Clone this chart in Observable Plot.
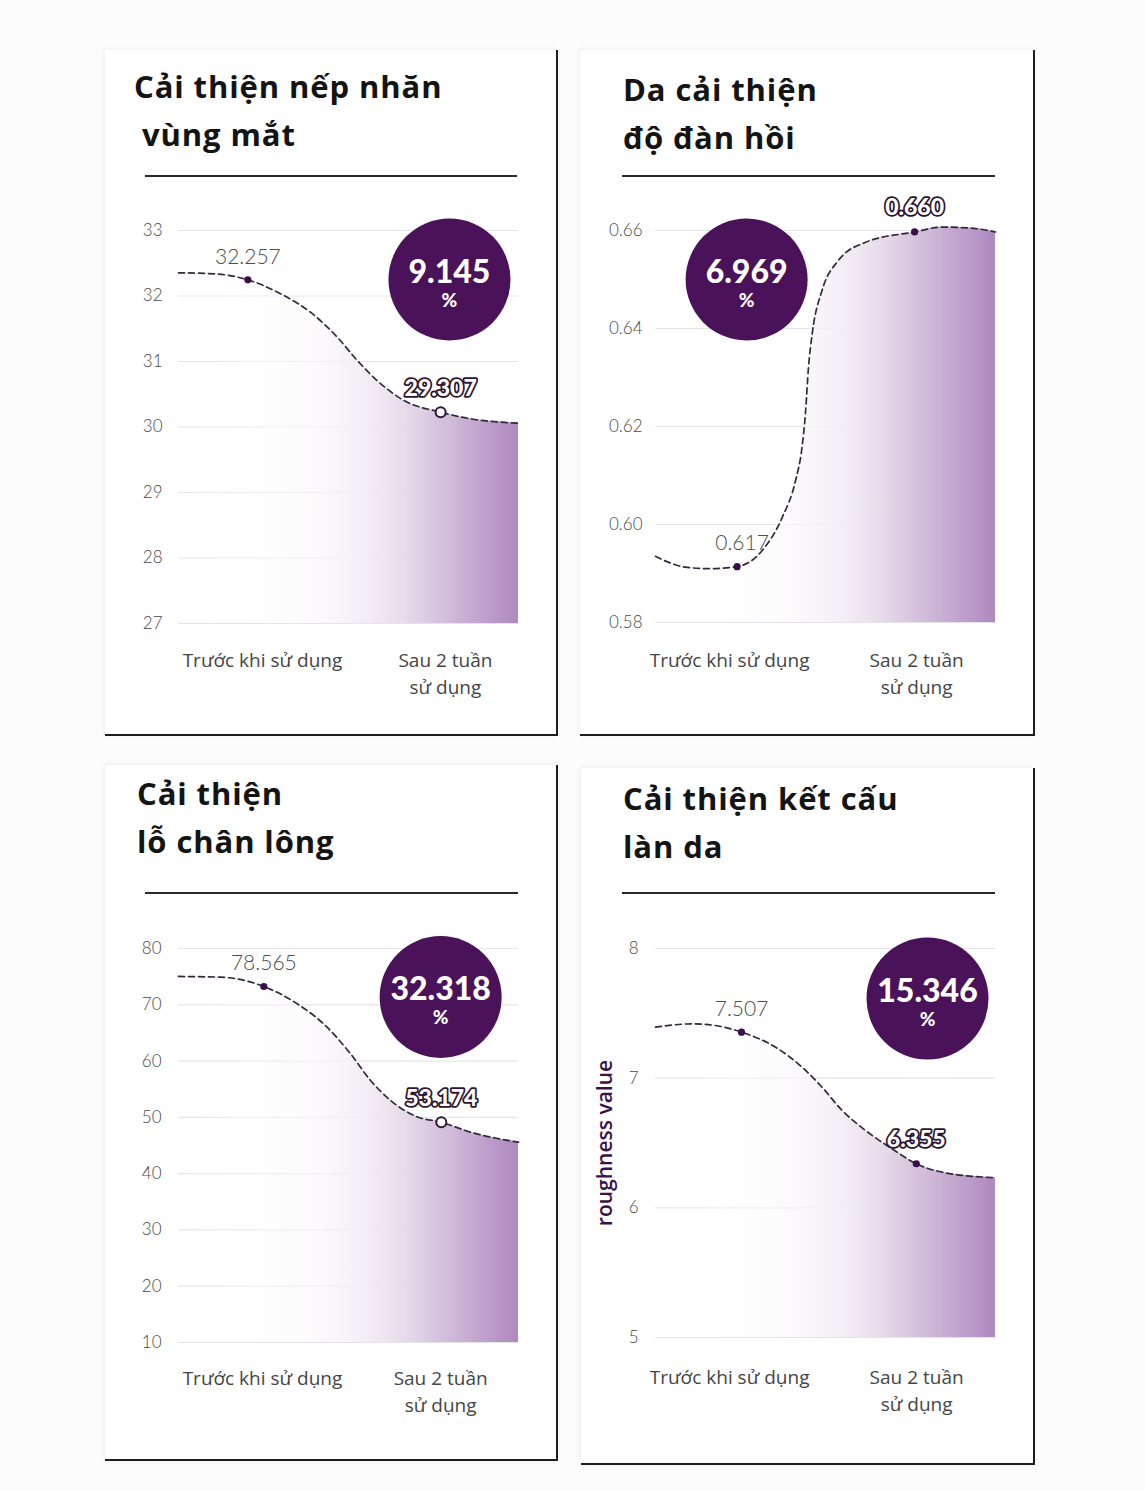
<!DOCTYPE html>
<html><head><meta charset="utf-8">
<script src="https://cdn.jsdelivr.net/npm/d3@7"></script>
<script src="https://cdn.jsdelivr.net/npm/@observablehq/plot@0.6"></script>
<style>
html,body{margin:0;padding:0;}
body{background:#fdfcfd;width:1145px;height:1491px;position:relative;overflow:hidden;font-family:Lato,sans-serif;}
.card{position:absolute;background:#fff;border-right:2px solid #1e1e1e;border-bottom:2px solid #1e1e1e;box-shadow:-1px -1px 5px rgba(0,0,0,0.06);box-sizing:border-box;}
.tline{position:absolute;font-family:'Open Sans',sans-serif;font-weight:700;font-size:31px;color:#141414;line-height:48px;white-space:pre;letter-spacing:0.9px;}
.rule{position:absolute;height:2px;background:#2a2a2a;}
.chart{position:absolute;}
</style></head><body>
<script>
// ---------- shared ----------
const categories = ["Trước khi sử dụng", "Sau 2 tuần\nsử dụng"];

// ---------- Panel 1 ----------
const p1Title = ["Cải thiện nếp nhăn", "vùng mắt"];
const p1YTicks = [27, 28, 29, 30, 31, 32, 33];
const p1CurveX = [0, 0.104, 0.204, 0.300, 0.388, 0.467, 0.526, 0.584, 0.663, 0.771, 0.859, 1];
const p1CurveY = [32.354, 32.339, 32.247, 32.034, 31.753, 31.371, 31.015, 30.710, 30.405, 30.226, 30.125, 30.058];
const p1PointX = [0.204, 0.771];
const p1PointY = [32.247, 30.226];
const p1PointLabels = ["32.257", "29.307"];
const p1Badge = "9.145";
const p1CategoryX = [0.247, 0.785];

// ---------- Panel 2 ----------
const p2Title = ["Da cải thiện", "độ đàn hồi"];
const p2YTicks = [0.58, 0.60, 0.62, 0.64, 0.66];
const p2CurveX = [0, 0.088, 0.156, 0.240, 0.314, 0.373, 0.412, 0.431, 0.441, 0.450, 0.461, 0.490, 0.538, 0.618, 0.762, 0.843, 0.941, 1];
const p2CurveY = [0.5935, 0.5913, 0.5910, 0.5914, 0.5947, 0.6015, 0.6090, 0.6158, 0.6227, 0.6321, 0.6390, 0.6478, 0.6539, 0.6576, 0.6597, 0.6607, 0.6604, 0.6597];
const p2PointX = [0.240, 0.762];
const p2PointY = [0.5914, 0.6597];
const p2PointLabels = ["0.617", "0.660"];
const p2Badge = "6.969";
const p2CategoryX = [0.218, 0.768];

// ---------- Panel 3 ----------
const p3Title = ["Cải thiện", "lỗ chân lông"];
const p3YTicks = [10, 20, 30, 40, 50, 60, 70, 80];
const p3CurveX = [0, 0.124, 0.251, 0.349, 0.437, 0.506, 0.565, 0.624, 0.702, 0.773, 0.859, 1];
const p3CurveY = [75.03, 74.90, 73.25, 70.18, 66.02, 61.29, 56.55, 52.99, 50.10, 49.14, 47.37, 45.59];
const p3PointX = [0.251, 0.773];
const p3PointY = [73.25, 49.14];
const p3PointLabels = ["78.565", "53.174"];
const p3Badge = "32.318";
const p3CategoryX = [0.247, 0.771];

// ---------- Panel 4 ----------
const p4Title = ["Cải thiện kết cấu", "làn da"];
const p4YTicks = [5, 6, 7, 8];
const p4YLabel = "roughness value";
const p4CurveX = [0, 0.108, 0.176, 0.253, 0.353, 0.431, 0.490, 0.549, 0.618, 0.696, 0.767, 0.843, 1];
const p4CurveY = [7.393, 7.419, 7.406, 7.355, 7.239, 7.085, 6.930, 6.751, 6.596, 6.455, 6.340, 6.275, 6.232];
const p4PointX = [0.253, 0.767];
const p4PointY = [7.355, 6.340];
const p4PointLabels = ["7.507", "6.355"];
const p4Badge = "15.346";
const p4CategoryX = [0.218, 0.768];

// ---------- panel definitions (data + layout) ----------
const panels = [
  {title: p1Title, yTicks: p1YTicks, curveX: p1CurveX, curveY: p1CurveY, pointX: p1PointX, pointY: p1PointY,
   labels: p1PointLabels, badge: p1Badge, catX: p1CategoryX, hollow: true, yFmt: d => String(d), yLabel: null,
   layout: {card: [105, 50, 453, 686], titleX: [134, 142], titleTop: 62, rule: [145, 175, 372],
            svg: [105, 190, 453, 520], margin: [40, 40, 87, 73], tickPad: 16, badgeAt: [0.797, 32.252], label1dx: 0, catDy: 24}},
  {title: p2Title, yTicks: p2YTicks, curveX: p2CurveX, curveY: p2CurveY, pointX: p2PointX, pointY: p2PointY,
   labels: p2PointLabels, badge: p2Badge, catX: p2CategoryX, hollow: false, yFmt: d => d.toFixed(2), yLabel: null,
   layout: {card: [580, 50, 455, 686], titleX: [623, 623], titleTop: 65, rule: [622, 175, 373],
            svg: [580, 190, 455, 520], margin: [40, 40, 88, 75], tickPad: 13, badgeAt: [0.268, 0.650], label1dx: 5, catDy: 25}},
  {title: p3Title, yTicks: p3YTicks, curveX: p3CurveX, curveY: p3CurveY, pointX: p3PointX, pointY: p3PointY,
   labels: p3PointLabels, badge: p3Badge, catX: p3CategoryX, hollow: true, yFmt: d => String(d), yLabel: null,
   layout: {card: [105, 765, 453, 696], titleX: [137, 137], titleTop: 769, rule: [145, 892, 373],
            svg: [105, 908, 453, 522], margin: [40, 40, 88, 73], tickPad: 17, badgeAt: [0.771, 71.38], label1dx: 0, catDy: 23}},
  {title: p4Title, yTicks: p4YTicks, curveX: p4CurveX, curveY: p4CurveY, pointX: p4PointX, pointY: p4PointY,
   labels: p4PointLabels, badge: p4Badge, catX: p4CategoryX, hollow: false, yFmt: d => String(d), yLabel: p4YLabel,
   layout: {card: [581, 768, 454, 697], titleX: [623, 623], titleTop: 774, rule: [622, 892, 373],
            svg: [581, 908, 454, 522], margin: [40, 40, 93, 74], tickPad: 17, badgeAt: [0.8, 7.614], label1dx: 0, catDy: 27}}
];

const PURPLE = "#4a1258";
const DOT = "#3a0e46";

function gradientMark(id) {
  return () => {
    const ns = "http://www.w3.org/2000/svg";
    const defs = document.createElementNS(ns, "defs");
    const g = document.createElementNS(ns, "linearGradient");
    g.setAttribute("id", id);
    g.setAttribute("x1", "0"); g.setAttribute("x2", "1");
    g.setAttribute("y1", "0"); g.setAttribute("y2", "0");
    const stops = [
      [0, "#ffffff", 0], [0.38, "#fbf9fb", 0.6], [0.55, "#f2ecf4", 0.9], [0.66, "#e7dcea", 0.97],
      [0.77, "#d5c2dd", 1], [0.9, "#c0a1cd", 1], [1, "#ae88bf", 1]
    ];
    for (const [o, c, op] of stops) {
      const s = document.createElementNS(ns, "stop");
      s.setAttribute("offset", o);
      s.setAttribute("stop-color", c);
      s.setAttribute("stop-opacity", op);
      g.appendChild(s);
    }
    defs.appendChild(g);
    return defs;
  };
}

panels.forEach((p, idx) => {
  const L = p.layout;
  // card
  const card = document.createElement("div");
  card.className = "card";
  Object.assign(card.style, {left: L.card[0] + "px", top: L.card[1] + "px", width: L.card[2] + "px", height: L.card[3] + "px"});
  document.body.appendChild(card);
  // title lines
  p.title.forEach((t, i) => {
    const d = document.createElement("div");
    d.className = "tline";
    d.textContent = t;
    Object.assign(d.style, {left: L.titleX[i] + "px", top: (L.titleTop + i * 48) + "px"});
    document.body.appendChild(d);
  });
  // rule
  const r = document.createElement("div");
  r.className = "rule";
  Object.assign(r.style, {left: L.rule[0] + "px", top: L.rule[1] + "px", width: L.rule[2] + "px"});
  document.body.appendChild(r);

  const curve = p.curveX.map((x, i) => ({x, y: p.curveY[i]}));
  const pts = p.pointX.map((x, i) => ({x, y: p.pointY[i], label: p.labels[i]}));
  const cats = p.catX.map((x, i) => ({x, text: categories[i]}));
  const ymin = d3.min(p.yTicks), ymax = d3.max(p.yTicks);
  const gid = "areaGrad" + idx;
  const [mt, mr, mb, ml] = L.margin;

  const marks = [
    gradientMark(gid),
    Plot.gridY(p.yTicks, {stroke: "#e6e3ea", strokeOpacity: 1, strokeWidth: 1.2}),
    Plot.axisY(p.yTicks, {tickSize: 0, tickPadding: L.tickPad, tickFormat: p.yFmt, fontSize: 17, label: null,
                          fill: "#4a4a4a", fontWeight: 300}),
    Plot.area(curve, {x1: "x", y1: () => ymin, y2: "y", curve: "monotone-x", fill: `url(#${gid})`}),
    Plot.line(curve, {x: "x", y: "y", curve: "monotone-x", stroke: "#33293a", strokeWidth: 1.7, strokeDasharray: "6,4"}),
    Plot.dot([pts[0]], {x: "x", y: "y", r: 3.6, fill: DOT}),
    p.hollow
      ? Plot.dot([pts[1]], {x: "x", y: "y", r: 5, fill: "white", stroke: "#2a1a31", strokeWidth: 2})
      : Plot.dot([pts[1]], {x: "x", y: "y", r: 3.6, fill: DOT}),
    Plot.text([pts[0]], {x: "x", y: "y", text: "label", dy: -23, dx: L.label1dx, fontSize: 21, fontWeight: 300,
                         fill: "#4d4d4d", ariaLabel: "plainlabel"}),
    Plot.text([pts[1]], {x: "x", y: "y", text: "label", dy: -24, fontSize: 23, fontWeight: 900,
                         fill: "white", stroke: "#2a1530", strokeWidth: 3.6, paintOrder: "stroke",
                         ariaLabel: "outlined"}),
    Plot.dot([{x: L.badgeAt[0], y: L.badgeAt[1]}], {x: "x", y: "y", r: 61, fill: PURPLE}),
    Plot.text([{x: L.badgeAt[0], y: L.badgeAt[1], t: p.badge}], {x: "x", y: "y", text: "t", dy: -7,
                         fontSize: 32, fontWeight: 900, fill: "white", ariaLabel: "badge"}),
    Plot.text([{x: L.badgeAt[0], y: L.badgeAt[1]}], {x: "x", y: "y", text: () => "%", dy: 21,
                         fontSize: 19, fontWeight: 900, fill: "white"}),
    Plot.text(cats, {x: "x", frameAnchor: "bottom", text: "text", lineAnchor: "top", dy: L.catDy, fontSize: 19,
                     lineHeight: 1.42, fill: "#454545", fontFamily: "'Open Sans', sans-serif", ariaLabel: "cats"})
  ];
  if (p.yLabel) {
    marks.push(Plot.text([p.yLabel], {frameAnchor: "left", textAnchor: "middle", text: d => d, rotate: -90, dx: -50,
                                      fontSize: 21, fontWeight: 600, fill: "#3b1247",
                                      fontFamily: "'Open Sans', sans-serif"}));
  }

  const svg = Plot.plot({
    width: L.svg[2], height: L.svg[3],
    marginTop: mt, marginRight: mr, marginBottom: mb, marginLeft: ml,
    x: {domain: [0, 1], axis: null},
    y: {domain: [ymin, ymax]},
    style: {fontFamily: "Lato, sans-serif", background: "transparent", overflow: "visible"},
    marks
  });
  d3.select(svg).selectAll('g[aria-label="outlined"] text').style("letter-spacing", "-1.2px");
  d3.select(svg).selectAll('g[aria-label="badge"] text').style("letter-spacing", "-0.5px");
  const wrap = document.createElement("div");
  wrap.className = "chart";
  Object.assign(wrap.style, {left: L.svg[0] + "px", top: L.svg[1] + "px"});
  wrap.appendChild(svg);
  document.body.appendChild(wrap);
});
</script>
</body></html>
